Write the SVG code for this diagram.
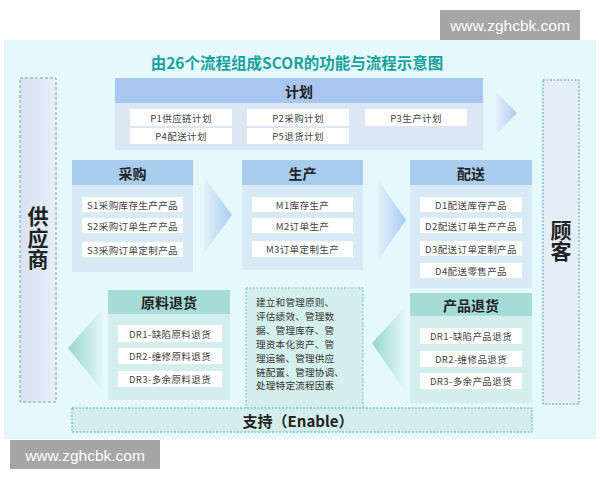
<svg xmlns="http://www.w3.org/2000/svg" width="600" height="480" viewBox="0 0 600 480">
<defs>
<style>
text{font-family:"Noto Sans CJK SC","Noto Sans",sans-serif;dominant-baseline:central;text-anchor:middle}
.title{font-size:15.5px;font-weight:bold;fill:#16a19e}
.hdr{font-size:14px;font-weight:bold;fill:#222}
.item{font-size:9.5px;fill:#444;letter-spacing:0.4px}
.ibox{fill:#ffffff}
.bhead{fill:#a9cdef}
.bbody{fill:#d9eaf7}
.thead{fill:#a6dcd8}
.tbody{fill:#d3eeed}
.side{font-size:21px;font-weight:bold;fill:#222;writing-mode:vertical-rl;letter-spacing:0.5px}
.mid{font-size:9.6px;fill:#333;text-anchor:start;letter-spacing:0.2px}
.wm{font-family:"Liberation Sans",Arial,sans-serif;font-size:15.5px;fill:#ffffff}
</style>
<linearGradient id="gBlue" x1="0" y1="0" x2="1" y2="0">
<stop offset="0" stop-color="#e4f1fb"/>
<stop offset="1" stop-color="#a8cdf0"/>
</linearGradient>
<linearGradient id="gPlan" x1="0" y1="0" x2="1" y2="0">
<stop offset="0" stop-color="#e6f0fb"/>
<stop offset="1" stop-color="#b2c6f0"/>
</linearGradient>
<linearGradient id="gTeal" x1="1" y1="0" x2="0" y2="0">
<stop offset="0" stop-color="#e2f5f4"/>
<stop offset="1" stop-color="#95d8cf"/>
</linearGradient>
<linearGradient id="gSup" x1="0" y1="0" x2="1" y2="0">
<stop offset="0" stop-color="#d8e3f3"/>
<stop offset="1" stop-color="#e6eef8"/>
</linearGradient>
</defs>

<rect x="0" y="0" width="600" height="480" fill="#ffffff"/>
<rect id="panel" x="4" y="40" width="592" height="399" fill="#e5f8fc"/>

<text class="title" x="297" y="62">由26个流程组成SCOR的功能与流程示意图</text>

<g id="supplier">
<rect x="20" y="78" width="36" height="324" fill="url(#gSup)" stroke="#8a98a8" stroke-width="1" stroke-dasharray="3,2"/>
<text class="side" x="38" y="238">供应商</text>
</g>

<g id="customer">
<rect x="543" y="80" width="36" height="324" fill="#e3eef9" stroke="#5fa5a5" stroke-width="1" stroke-dasharray="2,1.5"/>
<text class="side" x="561" y="241">顾客</text>
</g>

<g id="connectors">
<polygon points="496,92 517,113 496,135" fill="url(#gPlan)"/>
<polygon points="204,177 232,215 204,253" fill="url(#gBlue)"/>
<polygon points="378,180 406,220 378,260" fill="url(#gBlue)"/>
<polygon points="102,310 68,348 102,390" fill="url(#gTeal)"/>
<polygon points="404,308 372,343 404,390" fill="url(#gTeal)"/>
</g>

<g id="plan">
<rect x="115" y="78" width="368" height="72" fill="#dbe7f4"/>
<rect x="115" y="78" width="368" height="25" fill="#a8c6ef"/>
<text class="hdr" x="299" y="91">计划</text>
<rect class="ibox" x="130" y="109" width="102" height="17"/>
<text class="item" x="181" y="117.5">P1供应链计划</text>
<rect class="ibox" x="247" y="109" width="102" height="17"/>
<text class="item" x="298" y="117.5">P2采购计划</text>
<rect class="ibox" x="365" y="109" width="102" height="17"/>
<text class="item" x="416" y="117.5">P3生产计划</text>
<rect class="ibox" x="130" y="128" width="102" height="16"/>
<text class="item" x="181" y="136">P4配送计划</text>
<rect class="ibox" x="247" y="128" width="102" height="16"/>
<text class="item" x="298" y="136">P5退货计划</text>
</g>

<g id="purchase">
<rect class="bbody" x="72" y="160" width="121" height="112"/>
<rect class="bhead" x="72" y="160" width="121" height="25"/>
<text class="hdr" x="132.5" y="172.5">采购</text>
<rect class="ibox" x="82" y="197" width="101" height="15"/>
<text class="item" x="132.5" y="204.5">S1采购库存生产产品</text>
<rect class="ibox" x="82" y="218" width="101" height="15"/>
<text class="item" x="132.5" y="225.5">S2采购订单生产产品</text>
<rect class="ibox" x="82" y="242" width="101" height="15"/>
<text class="item" x="132.5" y="249.5">S3采购订单定制产品</text>
</g>

<g id="production">
<rect class="bbody" x="242" y="160" width="121" height="110"/>
<rect class="bhead" x="242" y="160" width="121" height="25"/>
<text class="hdr" x="302.5" y="172.5">生产</text>
<rect class="ibox" x="252" y="197" width="101" height="15"/>
<text class="item" x="302.5" y="204.5">M1库存生产</text>
<rect class="ibox" x="252" y="218" width="101" height="15"/>
<text class="item" x="302.5" y="225.5">M2订单生产</text>
<rect class="ibox" x="252" y="241" width="101" height="16"/>
<text class="item" x="302.5" y="249">M3订单定制生产</text>
</g>

<g id="delivery">
<rect class="bbody" x="410" y="160" width="122" height="128"/>
<rect class="bhead" x="410" y="160" width="122" height="25"/>
<text class="hdr" x="471" y="172.5">配送</text>
<rect class="ibox" x="420" y="197" width="102" height="15"/>
<text class="item" x="471" y="204.5">D1配送库存产品</text>
<rect class="ibox" x="420" y="218" width="102" height="15"/>
<text class="item" x="471" y="225.5">D2配送订单生产产品</text>
<rect class="ibox" x="420" y="241" width="102" height="15"/>
<text class="item" x="471" y="248.5">D3配送订单定制产品</text>
<rect class="ibox" x="420" y="263" width="102" height="15"/>
<text class="item" x="471" y="270.5">D4配送零售产品</text>
</g>

<g id="raw-return">
<rect class="tbody" x="108" y="290" width="122" height="110"/>
<rect class="thead" x="108" y="290" width="122" height="24"/>
<text class="hdr" x="169" y="302">原料退货</text>
<rect class="ibox" x="118" y="325" width="104" height="17"/>
<text class="item" x="170" y="333.5">DR1-缺陷原料退货</text>
<rect class="ibox" x="118" y="348" width="104" height="16"/>
<text class="item" x="170" y="356">DR2-维修原料退货</text>
<rect class="ibox" x="118" y="371" width="104" height="16"/>
<text class="item" x="170" y="379">DR3-多余原料退货</text>
</g>

<g id="product-return">
<rect class="tbody" x="410" y="293" width="122" height="110"/>
<rect class="thead" x="410" y="293" width="122" height="23"/>
<text class="hdr" x="471" y="304.5">产品退货</text>
<rect class="ibox" x="420" y="328" width="102" height="16"/>
<text class="item" x="471" y="336">DR1-缺陷产品退货</text>
<rect class="ibox" x="420" y="351" width="102" height="16"/>
<text class="item" x="471" y="359">DR2-维修品退货</text>
<rect class="ibox" x="420" y="373" width="102" height="16"/>
<text class="item" x="471" y="381">DR3-多余产品退货</text>
</g>

<g id="enable-desc">
<rect x="246" y="288" width="117" height="122" fill="#d5efed" stroke="#78bdb8" stroke-width="1" stroke-dasharray="2,1.5"/>
<text class="mid" x="256" y="302"><tspan x="256" y="302">建立和管理原则、</tspan><tspan x="256" y="315.9">评估绩效、管理数</tspan><tspan x="256" y="329.8">据、管理库存、管</tspan><tspan x="256" y="343.7">理资本化资产、管</tspan><tspan x="256" y="357.6">理运输、管理供应</tspan><tspan x="256" y="371.5">链配置、管理协调、</tspan><tspan x="256" y="385.4">处理特定流程因素</tspan></text>
</g>

<g id="enable">
<rect x="72" y="408" width="460" height="24" fill="#d3eeed" stroke="#6aa9a5" stroke-width="1" stroke-dasharray="2,1.5"/>
<text class="hdr" x="298" y="420" style="font-size:15px">支持（Enable）</text>
</g>

<g id="watermarks">
<rect x="440" y="10" width="140" height="30" fill="#a6a6a6"/>
<text class="wm" x="510" y="25">www.zghcbk.com</text>
<rect x="10" y="440" width="150" height="29" fill="#a6a6a6"/>
<text class="wm" x="85" y="455">www.zghcbk.com</text>
</g>
</svg>
